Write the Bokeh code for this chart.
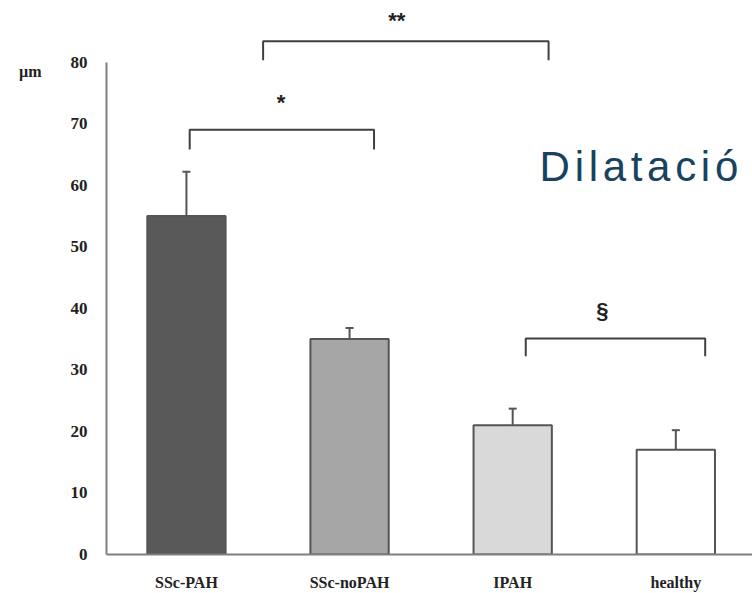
from bokeh.plotting import figure
from bokeh.models import Range1d, Whisker, TeeHead, ColumnDataSource, FixedTicker, LinearAxis
from bokeh.core.properties import value
from bokeh.embed import file_html
from bokeh.resources import INLINE

categories = ["SSc-PAH", "SSc-noPAH", "IPAH", "healthy"]
means = [55, 35, 21, 17]
errors = [7.2, 1.8, 2.7, 3.2]
fills = ["#595959", "#a6a6a6", "#d9d9d9", "#ffffff"]
y_ticks = [0, 10, 20, 30, 40, 50, 60, 70, 80]
unit_label = "µm"

# significance brackets
br_left = [0.02, 0.47, 2.08]
br_right = [1.15, 2.22, 3.18]
br_top = [69.0, 83.4, 35.1]
br_leg = [65.8, 80.3, 32.2]
br_text = ["*", "**", "§"]
br_text_x = [0.58, 1.29, 2.55]
br_text_y = [73.4, 86.8, 39.6]

overlay_text = "Dilatació"

xs = list(range(len(categories)))
src = ColumnDataSource(dict(x=xs, top=means, upper=[m + e for m, e in zip(means, errors)], fill=fills))

p = figure(width=752, height=593, output_backend="svg", toolbar_location=None,
           x_range=Range1d(-0.49, 3.47), y_range=Range1d(0, 89.2),
           min_border_left=106, min_border_right=0, min_border_top=5, min_border_bottom=36,
           x_axis_location=None, y_axis_location=None)
p.outline_line_color = None
p.grid.visible = False
p.background_fill_color = "white"

p.vbar(x="x", top="top", width=0.48, fill_color="fill", line_color="#555555", line_width=2, source=src)
p.add_layout(Whisker(source=src, base="x", upper="upper", lower="top", line_color="#555555", line_width=2,
                     upper_head=TeeHead(size=8, line_color="#555555", line_width=2), lower_head=None))

for l, r, t, g in zip(br_left, br_right, br_top, br_leg):
    p.line(x=[l, l, r, r], y=[g, t, t, g], line_color="#404040", line_width=2)
p.text(x=br_text_x, y=br_text_y, text=br_text, text_align="center", text_baseline="middle",
       text_font_size="22px", text_font_style="bold", text_color="#222222")

yaxis = LinearAxis(ticker=FixedTicker(ticks=y_ticks), bounds=(0, 80))
yaxis.axis_line_color = "#7f7f7f"
yaxis.axis_line_width = 2
yaxis.major_tick_line_color = None
yaxis.minor_tick_line_color = None
yaxis.major_label_standoff = 13
yaxis.major_label_text_font = "Liberation Serif"
yaxis.major_label_text_font_style = "bold"
yaxis.major_label_text_font_size = "17px"
yaxis.major_label_text_color = "#222222"
p.add_layout(yaxis, "left")

# outer axis carrying the unit label next to the top tick
unit_y = 78.4
uaxis = LinearAxis(ticker=FixedTicker(ticks=[unit_y]), major_label_overrides={unit_y: unit_label})
uaxis.axis_line_color = None
uaxis.major_tick_line_color = None
uaxis.minor_tick_line_color = None
uaxis.major_label_standoff = 20
uaxis.major_label_text_font = "Liberation Serif"
uaxis.major_label_text_font_style = "bold"
uaxis.major_label_text_font_size = "16px"
uaxis.major_label_text_color = "#222222"
p.add_layout(uaxis, "left")

xaxis = LinearAxis(ticker=FixedTicker(ticks=xs))
xaxis.major_label_overrides = {i: c for i, c in enumerate(categories)}
xaxis.axis_line_color = "#7f7f7f"
xaxis.axis_line_width = 2
xaxis.major_tick_line_color = None
xaxis.minor_tick_line_color = None
xaxis.major_label_standoff = 13
xaxis.major_label_text_font = "Liberation Serif"
xaxis.major_label_text_font_style = "bold"
xaxis.major_label_text_font_size = "16px"
xaxis.major_label_text_color = "#222222"
p.add_layout(xaxis, "below")

# letter-spaced overlay word (Arial-metric advance widths, em units)
adv = {"D": 0.722, "i": 0.222, "l": 0.222, "a": 0.556, "t": 0.278, "c": 0.5, "ó": 0.556}
fs = 42
track = 4.7
offs, cur = [], 0.0
for ch in overlay_text:
    offs.append(cur)
    cur += adv[ch] * fs + track
n = len(overlay_text)
p.text(x=[2.165] * n, y=[63.0] * n, text=list(overlay_text), x_offset=offs,
       text_align="left", text_baseline="alphabetic", text_font=value("Liberation Sans"),
       text_font_size=f"{fs}px", text_color="#17435f")

open("out.html", "w").write(file_html(p, INLINE))
